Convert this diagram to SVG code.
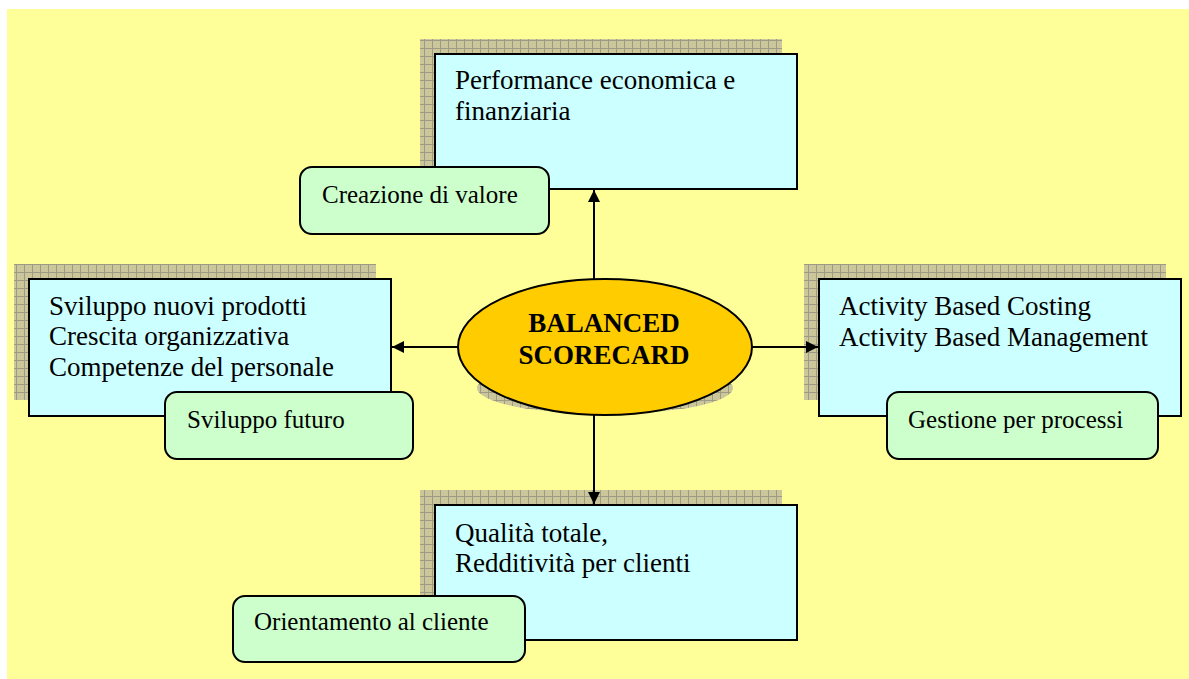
<svg xmlns="http://www.w3.org/2000/svg" width="1189" height="679" viewBox="0 0 1189 679">
  <defs>
    <!-- hatched grid used for the drop shadows -->
    <pattern id="shadowGrid" width="8" height="8" patternUnits="userSpaceOnUse">
      <rect width="8" height="8" fill="#cbc79a"/>
      <path d="M0 0.5 H8 M0.5 0 V8" stroke="#9d9a86" stroke-width="1" fill="none"/>
    </pattern>
    <marker id="arrow" viewBox="0 0 12 12" refX="12" refY="6" markerWidth="12" markerHeight="12" markerUnits="userSpaceOnUse" orient="auto">
      <path d="M0 0 L12 6 L0 12 Z" fill="#000"/>
    </marker>
  </defs>
  <style>
    .shadow { fill: url(#shadowGrid); }
    .box { fill: #ccffff; stroke: #000; stroke-width: 2; }
    .tag { fill: #ccffcc; stroke: #000; stroke-width: 2; }
    .txt { font-family: "Liberation Serif", "Times New Roman", serif; font-size: 27px; fill: #000; }
    .tagtxt { font-family: "Liberation Serif", "Times New Roman", serif; font-size: 25px; fill: #000; }
    .center { font-family: "Liberation Serif", "Times New Roman", serif; font-size: 27px; font-weight: bold; fill: #000; text-anchor: middle; }
    .link { stroke: #000; stroke-width: 2; fill: none; marker-end: url(#arrow); }
  </style>

  <!-- background -->
  <rect x="0" y="0" width="1189" height="679" fill="#ffffff"/>
  <rect x="7" y="9" width="1182" height="670" fill="#ffff99"/>

  <!-- top: economic and financial performance -->
  <g id="node-top">
    <rect class="shadow" x="420" y="39" width="362" height="135"/>
    <rect class="box" x="435" y="54" width="362" height="135"/>
    <text class="txt" x="455" y="89">Performance economica e</text>
    <text class="txt" x="455" y="120">finanziaria</text>
  </g>
  <g id="tag-top">
    <rect class="tag" x="300" y="167" width="249" height="67" rx="12"/>
    <text class="tagtxt" x="322" y="203">Creazione di valore</text>
  </g>

  <!-- left: growth and learning -->
  <g id="node-left">
    <rect class="shadow" x="14" y="264" width="362" height="136"/>
    <rect class="box" x="29" y="279" width="362" height="137"/>
    <text class="txt" x="49" y="315">Sviluppo nuovi prodotti</text>
    <text class="txt" x="49" y="345">Crescita organizzativa</text>
    <text class="txt" x="49" y="376">Competenze del personale</text>
  </g>
  <g id="tag-left">
    <rect class="tag" x="165" y="392" width="248" height="67" rx="12"/>
    <text class="tagtxt" x="187" y="428">Sviluppo futuro</text>
  </g>

  <!-- right: internal processes -->
  <g id="node-right">
    <rect class="shadow" x="804" y="264" width="362" height="136"/>
    <rect class="box" x="819" y="279" width="362" height="137"/>
    <text class="txt" x="839" y="315">Activity Based Costing</text>
    <text class="txt" x="839" y="346">Activity Based Management</text>
  </g>
  <g id="tag-right">
    <rect class="tag" x="887" y="392" width="271" height="67" rx="12"/>
    <text class="tagtxt" x="908" y="428">Gestione per processi</text>
  </g>

  <!-- bottom: customer -->
  <g id="node-bottom">
    <rect class="shadow" x="420" y="490" width="362" height="135"/>
    <rect class="box" x="435" y="505" width="362" height="135"/>
    <text class="txt" x="455" y="542">Qualità totale,</text>
    <text class="txt" x="455" y="572">Redditività per clienti</text>
  </g>
  <g id="tag-bottom">
    <rect class="tag" x="233" y="596" width="292" height="66" rx="12"/>
    <text class="tagtxt" x="254" y="630">Orientamento al cliente</text>
  </g>

  <!-- connectors, drawn over the shadows -->
  <g id="connectors">
    <line class="link" x1="594" y1="279" x2="594" y2="190"/>
    <line class="link" x1="594" y1="415" x2="594" y2="504"/>
    <line class="link" x1="458" y1="347" x2="392" y2="347"/>
    <line class="link" x1="752" y1="347" x2="818" y2="347"/>
  </g>

  <!-- centre ellipse -->
  <g id="node-center">
    <ellipse class="shadow" cx="605" cy="388" rx="128" ry="26"/>
    <ellipse cx="605" cy="347" rx="147" ry="68" fill="#ffcc00" stroke="#000" stroke-width="2"/>
    <text class="center" x="604" y="332">BALANCED</text>
    <text class="center" x="604" y="364">SCORECARD</text>
  </g>
</svg>
